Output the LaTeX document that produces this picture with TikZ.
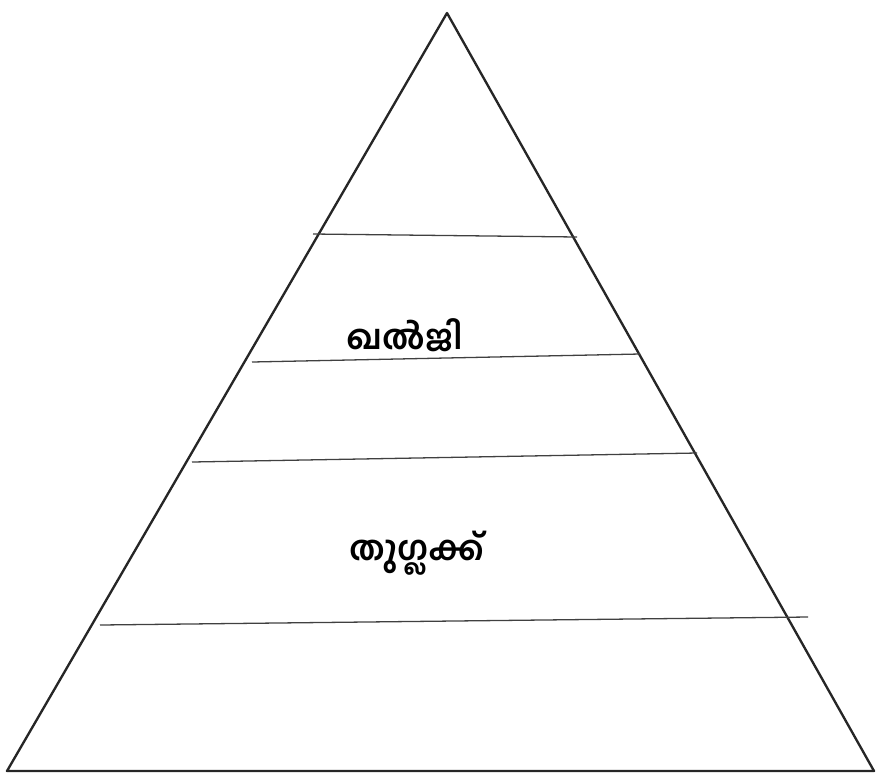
\documentclass[tikz,border=0pt]{standalone}
\usepackage{fontspec}
\newfontfamily\mlfont[Script=Malayalam]{Hind Kochi}
\usetikzlibrary{positioning}

\begin{document}
\begin{tikzpicture}[x=0.03cm,y=-0.03cm]
  \useasboundingbox (0,0) rectangle (876,774);
  \tikzset{edge/.style={line width=2pt,black!85,line join=round},
           band/.style={line width=1.1pt,black!75},
           label/.style={font=\mlfont\bfseries\fontsize{29}{32}\selectfont}}
  \coordinate (apex) at (447,13);
  \coordinate (bl) at (7,771);
  \coordinate (br) at (874,771);
  \draw[edge] (apex) -- (bl) -- (br) -- cycle;
  \coordinate (l1) at (313,234);  \coordinate (r1) at (577,237);
  \coordinate (l2) at (252,362);  \coordinate (r2) at (640,354);
  \coordinate (l3) at (192,462);  \coordinate (r3) at (697,453);
  \coordinate (l4) at (100,625);  \coordinate (r4) at (808,617);
  \foreach \i in {1,...,4}
    \draw[band] (l\i) -- (r\i);
  \node[label] (khalji) at (405,335) {ഖൽജി};
  \node[label] (tughlaq) at (417,553) {തുഗ്ലക്ക്};
\end{tikzpicture}
\end{document}
